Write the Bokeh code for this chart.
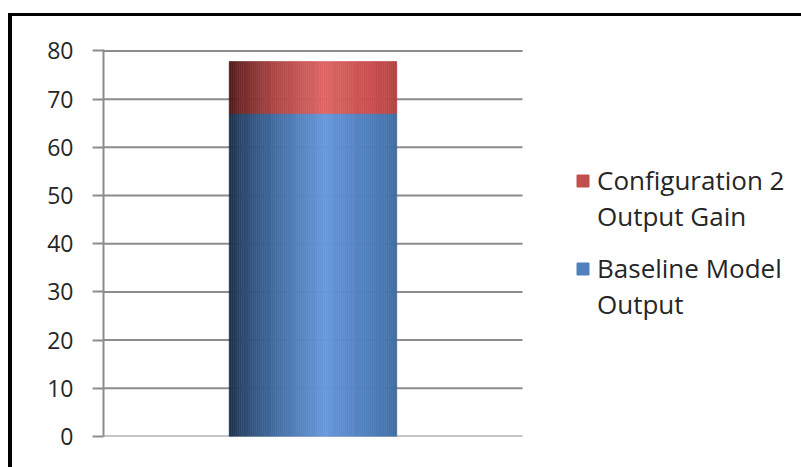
from bokeh.plotting import figure
from bokeh.models import Range1d, FixedTicker, Legend, LegendItem
from bokeh.embed import file_html
from bokeh.resources import INLINE

# ---- data ----
series_names = [["Configuration 2", "Output Gain"], ["Baseline Model", "Output"]]
series_colors = ["#c0504d", "#4f81bd"]
category_count = 1
baseline_output = [67.0]
config2_gain = [10.8]
y_ticks = [0, 10, 20, 30, 40, 50, 60, 70, 80]

# ---- helpers for the cylinder-like horizontal shading ----
def hex_to_rgb(h):
    h = h.lstrip("#")
    return tuple(int(h[i:i + 2], 16) for i in (0, 2, 4))

def shade(stops, t):
    for (t0, c0), (t1, c1) in zip(stops, stops[1:]):
        if t0 <= t <= t1:
            f = 0 if t1 == t0 else (t - t0) / (t1 - t0)
            a, b = hex_to_rgb(c0), hex_to_rgb(c1)
            return "#%02x%02x%02x" % tuple(round(a[i] + (b[i] - a[i]) * f) for i in range(3))
    return stops[-1][1]

blue_stops = [(0.0, "#1c2f48"), (0.08, "#2c4a70"), (0.3, "#4671a8"), (0.57, "#6799dc"),
              (0.75, "#5685c6"), (0.95, "#4675ae"), (1.0, "#3d6aa0")]
red_stops = [(0.0, "#4a1a1a"), (0.06, "#6e2828"), (0.25, "#a84444"), (0.57, "#e06666"),
             (0.75, "#cf5555"), (0.95, "#c04848"), (1.0, "#b04040")]

W, H = 801, 467
PLOT_LEFT, PLOT_BOTTOM = 103, 436
RIGHT_PAD = 12
PLOT_W = 419                                  # width of the gridded plotting area in pixels
FRAME_W = W - PLOT_LEFT - RIGHT_PAD           # frame also hosts the legend on its right
x_end = category_count * FRAME_W / PLOT_W

p = figure(width=W, height=H, output_backend="svg", toolbar_location=None,
           x_range=Range1d(0, x_end), y_range=Range1d(0, 80.3),
           min_border_left=PLOT_LEFT, min_border_right=RIGHT_PAD, min_border_top=49,
           min_border_bottom=H - PLOT_BOTTOM)
p.outline_line_color = None
p.background_fill_color = "white"
p.border_fill_alpha = 0       # let the page background (with its black edge) show around the frame
p.xaxis.visible = False
p.xgrid.grid_line_color = None
p.ygrid.grid_line_color = None

# horizontal gridlines across the category area only
grid_col = "#8c8c8c"
p.segment(x0=[0] * len(y_ticks), x1=[category_count] * len(y_ticks),
          y0=y_ticks, y1=y_ticks, line_color=grid_col, line_width=2)

# stacked bar drawn as thin vertical strips to give it a shaded look
n_strips = 80
bar_center, bar_width = 0.5, 0.40
strip_w = bar_width / n_strips
stack_top = [b + g for b, g in zip(baseline_output, config2_gain)]
for i in range(n_strips):
    t = (i + 0.5) / n_strips
    xc = bar_center - bar_width / 2 + strip_w * (i + 0.5)
    cb = shade(blue_stops, t)
    cr = shade(red_stops, t)
    p.vbar(x=[xc], width=strip_w, bottom=[0], top=baseline_output,
           fill_color=cb, line_color=cb, line_width=0.6)
    p.vbar(x=[xc], width=strip_w, bottom=baseline_output, top=stack_top,
           fill_color=cr, line_color=cr, line_width=0.6)

# legend: one swatch per series, label wrapped on two lines
swatches = [p.vbar(x=[0.5], width=0.0, top=[0], fill_color=c, line_color=c) for c in series_colors]
blank = p.vbar(x=[0.5], width=0.0, top=[0], fill_alpha=0, line_alpha=0)

legend_tops = [164, 252]   # pixel position of each legend block's top edge
for names, sw, top in zip(series_names, swatches, legend_tops):
    lg = Legend(items=[LegendItem(label=names[0], renderers=[sw]),
                       LegendItem(label=names[1], renderers=[blank])],
                location=(575 - PLOT_LEFT, PLOT_BOTTOM - (top + 70)), orientation="vertical",
                label_text_font="Open Sans", label_text_font_size="26px",
                label_text_color="#262626", glyph_width=15, glyph_height=15,
                label_height=35, label_standoff=7, spacing=0, padding=0, margin=0,
                border_line_color=None, background_fill_alpha=0)
    p.add_layout(lg)

# y axis
p.yaxis.ticker = FixedTicker(ticks=y_ticks)
p.yaxis.axis_line_color = grid_col
p.yaxis.axis_line_width = 2
p.yaxis.major_tick_line_color = grid_col
p.yaxis.major_tick_line_width = 2
p.yaxis.major_tick_out = 11
p.yaxis.major_tick_in = 0
p.yaxis.minor_tick_line_color = None
p.yaxis.major_label_standoff = 19
p.yaxis.major_label_text_font = "Open Sans"
p.yaxis.major_label_text_font_size = "23px"
p.yaxis.major_label_text_color = "#262626"

# page style: no margins/scrollbars, black top and left edge painted as the page background
page_css = (
    "<style>"
    "html, body { margin: 0; padding: 0; overflow: hidden; }"
    "body { background: linear-gradient(#000, #000) 8px 13px / 793px 3px no-repeat, "
    "linear-gradient(#000, #000) 8px 13px / 4px 454px no-repeat, #fff; }"
    "</style>"
)
html = file_html(p, INLINE)
html = html.replace("<head>", "<head>" + page_css, 1)
open("out.html", "w").write(html)
